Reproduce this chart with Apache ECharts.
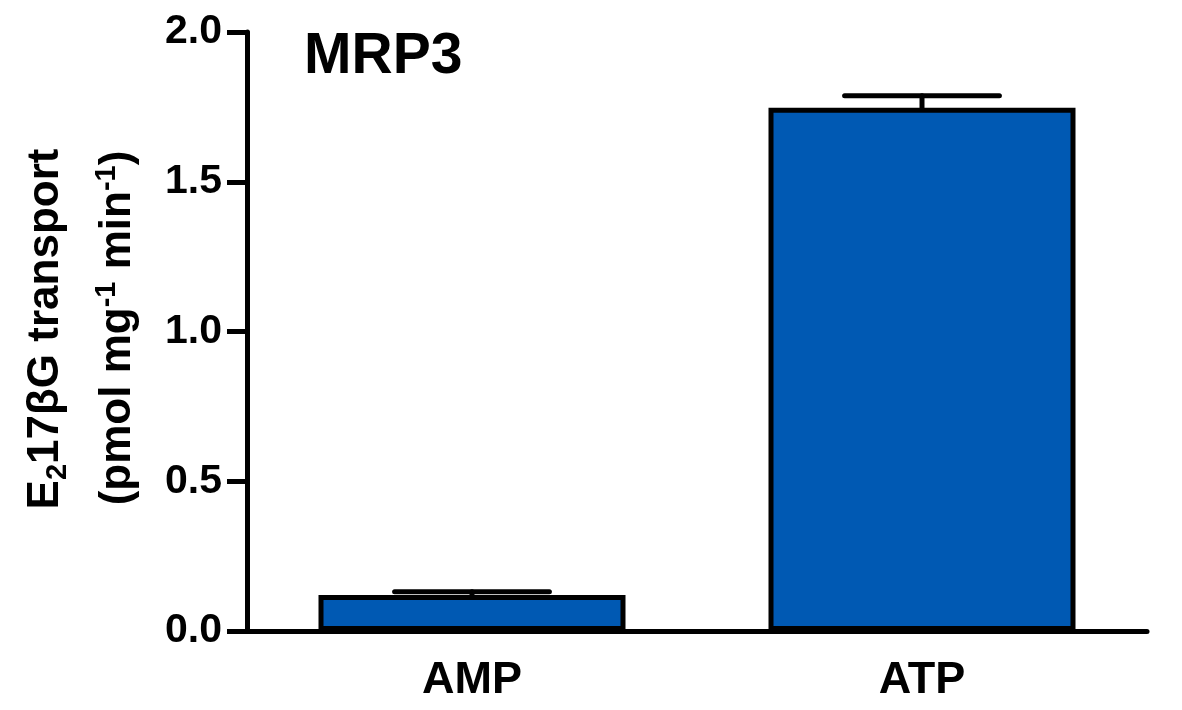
<!DOCTYPE html>
<html>
<head>
<meta charset="utf-8">
<script src="https://cdn.jsdelivr.net/npm/echarts@6/dist/echarts.min.js"></script>
<style>
html,body{margin:0;padding:0;background:#fff;}
#chart{width:1182px;height:710px;}
</style>
</head>
<body>
<div id="chart"></div>
<script>
const categories = ['AMP', 'ATP'];
const values = [0.12, 1.747];
const errors = [0.011, 0.04];
const yTicks = [0, 0.5, 1.0, 1.5, 2.0];
const titleText = 'MRP3';

const FONT = '"Liberation Sans", Arial, sans-serif';
const chart = echarts.init(document.getElementById('chart'), null, {renderer: 'canvas'});

const errData = categories.map((c, i) => [i, values[i], errors[i]]);

const option = {
  backgroundColor: '#ffffff',
  animation: false,
  title: {
    text: titleText,
    left: 304, top: 29, padding: 0,
    textStyle: {fontFamily: FONT, fontWeight: 'bold', fontSize: 57, color: '#000'}
  },
  grid: {left: 247, right: 35, top: 32, bottom: 79, containLabel: false},
  xAxis: {
    type: 'category',
    data: categories,
    axisLine: {lineStyle: {color: '#000', width: 5}},
    axisTick: {show: false},
    axisLabel: {margin: 27, fontFamily: FONT, fontWeight: 'bold', fontSize: 45, color: '#000'}
  },
  yAxis: {
    type: 'value',
    min: yTicks[0], max: yTicks[yTicks.length - 1], interval: 0.5,
    splitLine: {show: false},
    axisLine: {show: true, lineStyle: {color: '#000', width: 5}},
    axisTick: {show: true, length: 20, lineStyle: {color: '#000', width: 5}},
    axisLabel: {margin: 25, fontFamily: FONT, fontWeight: 'bold', fontSize: 41, color: '#000',
      formatter: v => v.toFixed(1)}
  },
  graphic: [
    {
      type: 'text', x: 46, y: 329, rotation: Math.PI / 2,
      style: {
        text: '{m|E}{s|2}{m|17βG transport}',
        align: 'center', verticalAlign: 'middle',
        rich: {
          m: {fontFamily: FONT, fontWeight: 'bold', fontSize: 44, lineHeight: 52, fill: '#000'},
          s: {fontFamily: FONT, fontWeight: 'bold', fontSize: 29, lineHeight: 52, fill: '#000', verticalAlign: 'bottom'}
        }
      }
    },
    {
      type: 'text', x: 118, y: 328, rotation: Math.PI / 2,
      style: {
        text: '{m|(pmol mg}{p|-1}{m| min}{p|-1}{m|)}',
        align: 'center', verticalAlign: 'middle',
        rich: {
          m: {fontFamily: FONT, fontWeight: 'bold', fontSize: 44, lineHeight: 52, fill: '#000'},
          p: {fontFamily: FONT, fontWeight: 'bold', fontSize: 29, lineHeight: 52, fill: '#000', verticalAlign: 'top'}
        }
      }
    }
  ],
  series: [
    {
      type: 'bar',
      data: values,
      barWidth: 307,
      itemStyle: {color: '#0059B3', borderColor: '#000', borderWidth: 5},
      z: 2
    },
    {
      type: 'custom',
      data: errData,
      z: 3,
      renderItem: function (params, api) {
        const x = api.value(0), y = api.value(1), e = api.value(2);
        const p0 = api.coord([x, y]);
        const p1 = api.coord([x, y + e]);
        const half = api.size([1, 0])[0] * 0.172;
        const st = {stroke: '#000', lineWidth: 5, lineCap: 'round'};
        return {
          type: 'group',
          children: [
            {type: 'line', shape: {x1: p0[0], y1: p0[1], x2: p1[0], y2: p1[1]}, style: st},
            {type: 'line', shape: {x1: p1[0] - half, y1: p1[1], x2: p1[0] + half, y2: p1[1]}, style: st}
          ]
        };
      }
    }
  ]
};
chart.setOption(option);
</script>
</body>
</html>
